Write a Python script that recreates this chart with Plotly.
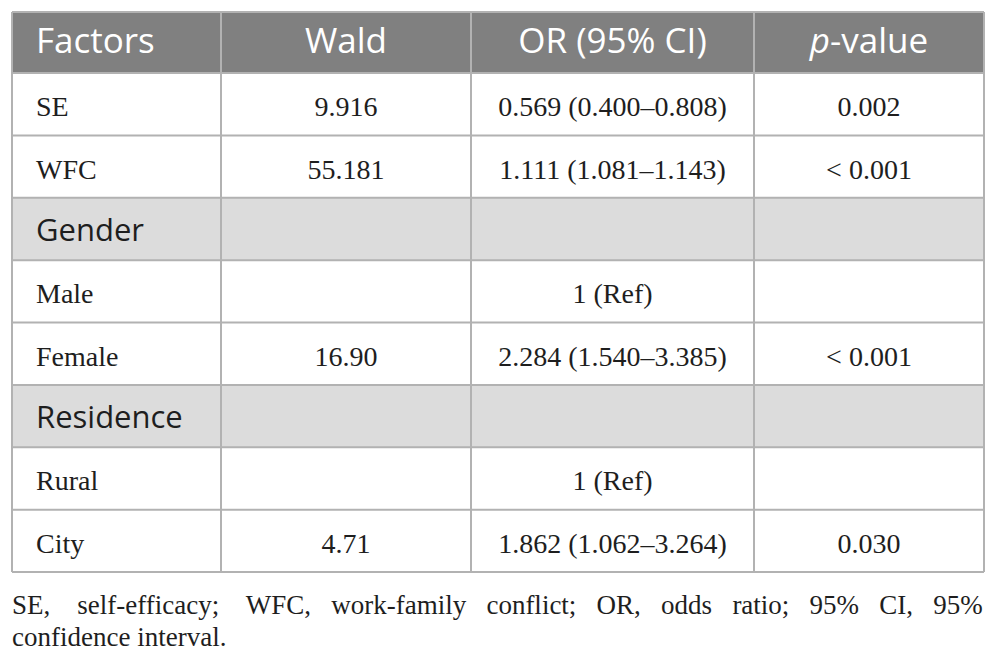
import plotly.graph_objects as go

header_labels = ["Factors", "Wald", "OR (95% CI)", "<i>p</i>-value"]

factors = ["SE", "WFC", "Gender", "Male", "Female", "Residence", "Rural", "City"]
wald = ["9.916", "55.181", "", "", "16.90", "", "", "4.71"]
or_ci = [
    "0.569 (0.400–0.808)",
    "1.111 (1.081–1.143)",
    "",
    "1 (Ref)",
    "2.284 (1.540–3.385)",
    "",
    "1 (Ref)",
    "1.862 (1.062–3.264)",
]
p_values = ["0.002", "< 0.001", "", "", "< 0.001", "", "", "0.030"]
section_rows = ["Gender", "Residence"]

footnote_words = ["SE,", "self-efficacy;", "WFC,", "work-family", "conflict;", "OR,",
                  "odds", "ratio;", "95%", "CI,", "95%"]
footnote_end = "confidence interval."

# layout in pixels (axes run in page pixels, y downwards)
W, H = 997, 662
col_w = [209, 250, 283, 230]
left, top, header_h = 12, 12, 61
row_h = 62.375

col_edges = [left]
for w in col_w:
    col_edges.append(col_edges[-1] + w)
right = col_edges[-1]
col_mid = [(a + b) / 2 for a, b in zip(col_edges[:-1], col_edges[1:])]
row_edges = [top, top + header_h] + [top + header_h + (i + 1) * row_h for i in range(len(factors))]
text_dy = 5  # plotly's "middle" sits a bit high for this type
row_mid = [(a + b) / 2 + text_dy for a, b in zip(row_edges[1:-1], row_edges[2:])]
header_mid = (row_edges[0] + row_edges[1]) / 2 + 2
bottom = row_edges[-1]

serif = "Liberation Serif"
sans = "Open Sans"
ink = "#1e1e1e"
grid = "#b2b2b2"
text_x0 = left + 24

is_section = [f in section_rows for f in factors]

shapes = []
# fills
shapes.append(dict(type="rect", x0=left, x1=right, y0=row_edges[0], y1=row_edges[1],
                   fillcolor="#808080", line_width=0, layer="below"))
for i, s in enumerate(is_section):
    if s:
        shapes.append(dict(type="rect", x0=left, x1=right, y0=row_edges[i + 1], y1=row_edges[i + 2],
                           fillcolor="#dcdcdc", line_width=0, layer="below"))
# grid lines
for y in row_edges:
    shapes.append(dict(type="line", x0=left, x1=right, y0=y, y1=y, line=dict(color=grid, width=2)))
for x in col_edges:
    shapes.append(dict(type="line", x0=x, x1=x, y0=top, y1=bottom, line=dict(color=grid, width=2)))

fig = go.Figure()

# header
fig.add_trace(go.Scatter(
    x=[text_x0] + col_mid[1:], y=[header_mid] * 4, mode="text",
    text=header_labels,
    textposition=["middle right", "middle center", "middle center", "middle center"],
    textfont=dict(family=sans, size=35, color="white"),
    hoverinfo="skip", showlegend=False,
))

# first column (section labels in sans)
fig.add_trace(go.Scatter(
    x=[text_x0] * len(factors),
    y=[m - 1 if s else m for m, s in zip(row_mid, is_section)],
    mode="text",
    text=factors, textposition="middle right",
    textfont=dict(
        family=[sans if s else serif for s in is_section],
        size=[31 if s else 28 for s in is_section],
        color=ink,
    ),
    hoverinfo="skip", showlegend=False,
))

for j, col in enumerate([wald, or_ci, p_values], start=1):
    fig.add_trace(go.Scatter(
        x=[col_mid[j]] * len(col), y=row_mid, mode="text",
        text=col, textposition="middle center",
        textfont=dict(family=serif, size=28, color=ink),
        hoverinfo="skip", showlegend=False,
    ))

# footnote, line 1 spread to the table width
gaps = ["\u00a0" * 3 + " "] * 2 + ["\u00a0" * 2 + " "] * 8
line1 = footnote_words[0]
for g, w in zip(gaps, footnote_words[1:]):
    line1 += g + w
fig.add_trace(go.Scatter(
    x=[left, left], y=[607.5, 639], mode="text",
    text=[line1, footnote_end], textposition="middle right",
    textfont=dict(family=serif, size=27, color=ink),
    hoverinfo="skip", showlegend=False,
))

fig.update_layout(
    width=W, height=H,
    margin=dict(l=0, r=0, t=0, b=0),
    paper_bgcolor="white", plot_bgcolor="white",
    shapes=shapes,
    xaxis=dict(range=[0, W], visible=False, fixedrange=True),
    yaxis=dict(range=[H, 0], visible=False, fixedrange=True),
)
fig.write_html("out.html", post_script="document.body.style.margin='0';",
               config={"displayModeBar": False})
